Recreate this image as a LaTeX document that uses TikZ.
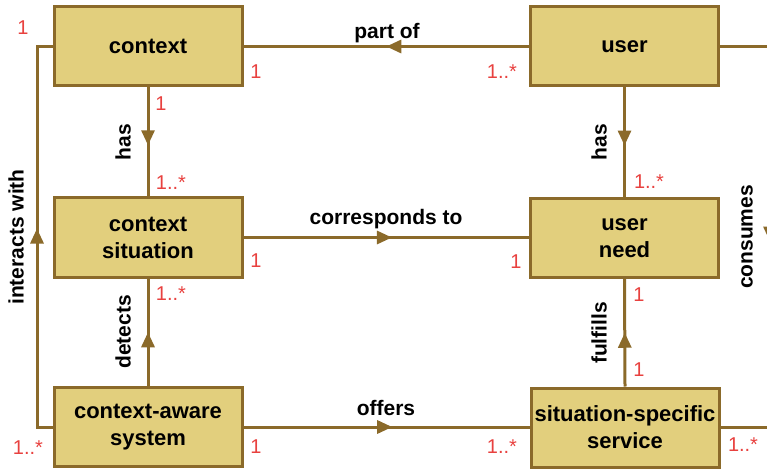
\documentclass[tikz,border=0pt]{standalone}
\usepackage{fontspec}
\setmainfont{Liberation Sans}
\usetikzlibrary{arrows.meta,decorations.markings}
\definecolor{boxfill}{HTML}{E2CF7D}
\definecolor{brd}{HTML}{8B6A2A}
\definecolor{mult}{HTML}{E8413F}
\tikzset{
  umlbox/.style={draw=brd, fill=boxfill, line width=3pt, minimum width=188pt, minimum height=79pt,
    inner sep=0pt, align=center, font=\bfseries\fontsize{22}{27}\selectfont},
  conn/.style={draw=brd, line width=3pt},
  midarrow/.style={postaction={decorate, decoration={markings,
    mark=at position #1 with {\arrow{Triangle[length=15pt,width=13pt]}}}}},
  lbl/.style={font=\bfseries\fontsize{21}{25}\selectfont, inner sep=0pt},
  vlbl/.style={lbl, rotate=90},
  mlt/.style={text=mult, font=\fontsize{20}{24}\selectfont, inner sep=0pt},
}
\begin{document}
\begin{tikzpicture}[x=1pt,y=-1pt]
\useasboundingbox (0,0) rectangle (767,470);
% boxes
\node[umlbox] (context) at (148,46.5) {context};
\node[umlbox] (user) at (624.5,46.5) {user};
\node[umlbox] (sit) at (148,237.5) {context\\situation};
\node[umlbox] (need) at (624.5,238) {user\\need};
\node[umlbox] (sys) at (148,427) {context-aware\\system};
\node[umlbox] (serv) at (625,427.5) {situation-specific\\service};
\coordinate (L) at (37,0);
\coordinate (R) at (770,0);
% connectors
\draw[conn, midarrow=0.5, brd] (user.west) -- (context.west -| context.east);
\draw[conn, midarrow=0.52, brd] (sit.east) -- (sit.east -| need.west);
\draw[conn, midarrow=0.52, brd] (sys.east) -- (sys.east -| serv.west);
\draw[conn, midarrow=0.53, brd] (context.south) -- (sit.north);
\draw[conn, midarrow=0.5, brd] (sys.north) -- (sit.south);
\draw[conn, midarrow=0.53, brd] (user.south) -- (need.north);
\draw[conn, midarrow=0.5, brd] (serv.north) -- (need.south);
\draw[conn, midarrow=0.52, brd] (sys.west) -- (sys.west -| L) -- (context.west -| L) -- (context.west);
\draw[conn, midarrow=0.51, brd] (user.east) -- (user.east -| R) -- (serv.east -| R) -- (serv.east);
% association labels
\node[lbl] (lpart) at (387,33) {part of};
\node[lbl] (lcorr) at (386,219) {corresponds to};
\node[lbl] (loff) at (386,408) {offers};
\node[vlbl] (lhas1) at (123,142) {has};
\node[vlbl] (ldet) at (123,332) {detects};
\node[vlbl] (lint) at (16,237) {interacts with};
\node[vlbl] (lhas2) at (599,142) {has};
\node[vlbl] (lful) at (599,333) {fulfills};
\node[vlbl] (lcons) at (747,237) {consumes};
% multiplicities
\node[mlt] (m1) at (23,28) {1};
\node[mlt] (m2) at (256,72) {1};
\node[mlt] (m3) at (502,72) {1..*};
\node[mlt] (m4) at (161,104) {1};
\node[mlt] (m5) at (171,183) {1..*};
\node[mlt] (m6) at (256,261) {1};
\node[mlt] (m7) at (516,262) {1};
\node[mlt] (m8) at (171,294) {1..*};
\node[mlt] (m9) at (28,448) {1..*};
\node[mlt] (m10) at (256,447) {1};
\node[mlt] (m11) at (502,447) {1..*};
\node[mlt] (m12) at (649,182) {1..*};
\node[mlt] (m13) at (639,295) {1};
\node[mlt] (m14) at (639,370) {1};
\node[mlt] (m15) at (743,445) {1..*};
\end{tikzpicture}
\end{document}
